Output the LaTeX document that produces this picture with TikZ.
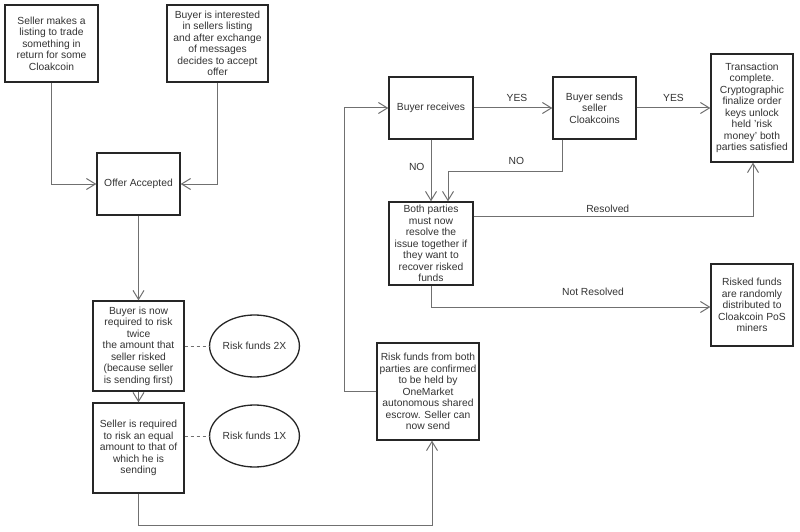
\documentclass[tikz,border=0pt]{standalone}
\usepackage{fontspec}
\setmainfont{Liberation Sans}
\usetikzlibrary{arrows.meta,shapes.geometric}
\definecolor{txt}{HTML}{333333}
\definecolor{ln}{HTML}{707070}
\begin{document}
\begin{tikzpicture}[x=1pt,y=-1pt,
  box/.style={draw=black!85,line width=1.3pt,fill=white,align=center,inner sep=1pt,
    font=\fontsize{10.3}{11.5}\selectfont,text=txt},
  ell/.style={ellipse,draw=black!85,line width=1.3pt,align=center,inner sep=0pt,
    font=\fontsize{10.3}{11.5}\selectfont,text=txt,minimum width=75pt,minimum height=62pt},
  conn/.style={draw=ln,line width=1pt,-{Straight Barb[length=9pt,width=11pt,line width=1pt]}},
  dline/.style={draw=ln,line width=0.8pt,dash pattern=on 3pt off 3pt},
  lbl/.style={font=\fontsize{10.3}{11.5}\selectfont,text=txt,inner sep=1pt}]
\useasboundingbox[fill=white] (0,0) rectangle (800,532);

\node[box,minimum width=93pt,minimum height=77pt] (b1) at (51.5,43.5)
  {Seller makes a\\listing to trade\\something in\\return for some\\Cloakcoin};
\node[box,minimum width=101pt,minimum height=77pt] (b2) at (217.5,43.5)
  {Buyer is interested\\in sellers listing\\and after exchange\\of messages\\decides to accept\\offer};
\node[box,minimum width=83pt,minimum height=62pt] (offer) at (138.5,184) {Offer Accepted};
\node[box,minimum width=91pt,minimum height=90pt] (bnow) at (138.5,346)
  {Buyer is now\\required to risk\\twice\\the amount that\\seller risked\\(because seller\\is sending first)};
\node[box,minimum width=91pt,minimum height=90pt] (sreq) at (138.5,448)
  {Seller is required\\to risk an equal\\amount to that of\\which he is\\sending};
\node[ell] (e2) at (254.5,346) {Risk funds 2X};
\node[ell] (e1) at (254.5,436) {Risk funds 1X};
\node[box,minimum width=102pt,minimum height=97pt] (risk) at (428,391.5)
  {Risk funds from both\\parties are confirmed\\to be held by\\OneMarket\\autonomous shared\\escrow. Seller can\\now send};
\node[box,minimum width=84pt,minimum height=62pt] (brec) at (431,108) {Buyer receives};
\node[box,minimum width=83pt,minimum height=62pt] (bsend) at (594.5,108) {Buyer sends\\seller\\Cloakcoins};
\node[box,minimum width=82pt,minimum height=108pt] (trans) at (752,108)
  {Transaction\\complete.\\Cryptographic\\finalize order\\keys unlock\\held 'risk\\money' both\\parties satisfied};
\node[box,minimum width=84pt,minimum height=83pt] (both) at (431,243.5)
  {Both parties\\must now\\resolve the\\issue together if\\they want to\\recover risked\\funds};
\node[box,minimum width=82pt,minimum height=82pt] (rfund) at (752,305)
  {Risked funds\\are randomly\\distributed to\\Cloakcoin PoS\\miners};

\coordinate (c1) at (51.5,184);
\coordinate (c2) at (217.5,184);
\coordinate (c3) at (138.5,525);
\coordinate (c4) at (432,525);
\coordinate (c5) at (344,391.5);
\coordinate (c6) at (344,108);
\coordinate (c7) at (562,171);
\coordinate (c8) at (448,171);
\coordinate (c9) at (753,216);
\coordinate (c10) at (431,307);

\draw[conn] (b1.south) -- (c1) -- (offer.west);
\draw[conn] (b2.south) -- (c2) -- (offer.east);
\draw[conn] (offer.south) -- (bnow.north);
\draw[conn] (bnow.south) -- (sreq.north);
\draw[dline] (bnow.east |- e2.west) -- (e2.west);
\draw[dline] (sreq.east |- e1.west) -- (e1.west);
\draw[conn] (sreq.south) -- (c3) -- (c4) -- (c4 |- risk.south);
\draw[conn] (risk.west) -- (c5) -- (c6) -- (brec.west);
\draw[conn] (brec.east) -- node[lbl,above=5pt,pos=0.55] {YES} (bsend.west);
\draw[conn] (bsend.east) -- node[lbl,above=5pt,pos=0.5] {YES} (trans.west);
\draw[conn] (brec.south) -- node[lbl,left=5pt,pos=0.45] {NO} (both.north);
\draw[conn] (c7 |- bsend.south) -- (c7) -- node[lbl,above=5pt,pos=0.4] {NO} (c8) -- (c8 |- both.north);
\draw[conn] (both.east |- c9) -- node[lbl,above=2pt,pos=0.48] {Resolved} (c9) -- (c9 |- trans.south);
\draw[conn] (both.south) -- (c10) -- node[lbl,above=10pt,pos=0.58] {Not Resolved} (c10 -| rfund.west);
\end{tikzpicture}
\end{document}
